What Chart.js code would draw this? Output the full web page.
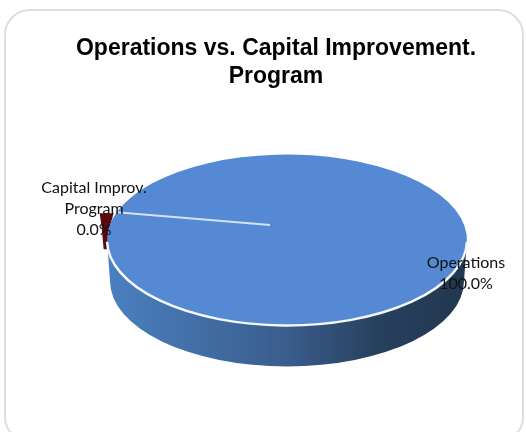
<!DOCTYPE html>
<html>
<head>
<meta charset="utf-8">
<script src="https://cdn.jsdelivr.net/npm/chart.js@4"></script>
<style>
    html, body { margin: 0; padding: 0; background: #fff; overflow: hidden; }
    #quadro { position: absolute; left: 4px; top: 9px; width: 516px; height: 430px; border: 2px solid #dedede; border-radius: 26px; }
    #grafico { position: absolute; left: 0; top: 0; }
</style>
</head>
<body>
<div id="quadro"></div>
<canvas id="grafico" width="526" height="432"></canvas>
<script>
const tituloLinhas = ["Operations vs. Capital Improvement.", "Program"];
const categorias = ["Operations", "Capital Improv. Program"];
const valores = [100, 0.04];
const rotulosLinhas = [["Operations"], ["Capital Improv.", "Program"]];

// Pie achatado: centro, achatamento e profundidade da lateral
const centroX = 287;
const centroY = 240;
const achatamento = 0.475;
const profundidade = 41;

function percentual(i) {
    const total = valores.reduce((a, b) => a + b, 0);
    return (valores[i] / total * 100).toFixed(1) + "%";
}

function pontoBorda(arco, angulo) {
    return {
        x: centroX + arco.outerRadius * Math.cos(angulo),
        y: centroY + arco.outerRadius * achatamento * Math.sin(angulo)
    };
}

const pie3d = {
    id: "pie3d",

    beforeDatasetsDraw(chart) {
        const ctx = chart.ctx;
        const arcos = chart.getDatasetMeta(0).data;
        const r = arcos[0].outerRadius;
        const ry = r * achatamento;

        // Lasca escura da fatia pequena, atrás do pie
        const p = pontoBorda(arcos[1], arcos[1].startAngle);
        ctx.fillStyle = "#5a0a0c";
        ctx.beginPath();
        ctx.moveTo(p.x - 17, p.y + 1);
        ctx.lineTo(p.x - 3, p.y + 1);
        ctx.lineTo(p.x - 7, p.y + 15);
        ctx.lineTo(p.x - 8, p.y + 37);
        ctx.lineTo(p.x - 13, p.y + 37);
        ctx.lineTo(p.x - 15, p.y + 15);
        ctx.closePath();
        ctx.fill();

        // Lateral do pie
        const grad = ctx.createLinearGradient(centroX - r, 0, centroX + r, 0);
        grad.addColorStop(0, "#4a80c0");
        grad.addColorStop(0.5, "#3a5d8c");
        grad.addColorStop(0.75, "#27405f");
        grad.addColorStop(1, "#223750");
        ctx.fillStyle = grad;
        ctx.beginPath();
        ctx.ellipse(centroX, centroY, r, ry, 0, 0, Math.PI);
        ctx.ellipse(centroX, centroY + profundidade, r - 3, ry, 0, Math.PI, 0, true);
        ctx.closePath();
        ctx.fill();

        // Achata as fatias desenhadas pelo Chart.js
        ctx.save();
        ctx.translate(centroX, centroY);
        ctx.scale(1, achatamento);
        ctx.translate(-arcos[0].x, -arcos[0].y);
    },

    afterDatasetsDraw(chart) {
        const ctx = chart.ctx;
        ctx.restore();

        const arcos = chart.getDatasetMeta(0).data;
        const r = arcos[0].outerRadius;

        // Contorno branco na frente
        ctx.strokeStyle = "#f4f8fc";
        ctx.lineWidth = 2.5;
        ctx.beginPath();
        ctx.ellipse(centroX, centroY, r, r * achatamento, 0, 0.02, Math.PI - 0.02);
        ctx.stroke();

        // Linha da fatia até o vértice
        const p = pontoBorda(arcos[1], arcos[1].startAngle);
        ctx.strokeStyle = "#d5e2f3";
        ctx.lineWidth = 2;
        ctx.beginPath();
        ctx.moveTo(p.x, p.y);
        ctx.lineTo(centroX - 17, centroY - 15);
        ctx.stroke();
    },

    afterDraw(chart) {
        const ctx = chart.ctx;
        ctx.fillStyle = "#111";
        ctx.font = "16px Lato";
        ctx.textAlign = "center";
        ctx.textBaseline = "middle";

        const posicoes = [[466, 263], [94, 188]];
        rotulosLinhas.forEach((linhas, i) => {
            const todas = linhas.concat(percentual(i));
            todas.forEach((texto, j) => {
                ctx.fillText(texto, posicoes[i][0], posicoes[i][1] + j * 21);
            });
        });
    }
};

new Chart(document.getElementById("grafico").getContext("2d"), {

    type: "pie",

    data: {

        labels: categorias,

        datasets: [{

            data: valores,

            backgroundColor: ["#5589d3", "#5a0a0c"],

            borderWidth: 0

        }]

    },

    options: {

        responsive: false,

        animation: false,

        rotation: 289,

        radius: 180,

        layout: {
            padding: { left: 26 }
        },

        plugins: {

            legend: {
                display: false
            },

            tooltip: {
                enabled: false
            },

            title: {
                display: true,
                text: tituloLinhas,
                color: "#000",
                font: { family: "Liberation Sans", size: 23, weight: "bold", lineHeight: 1.22 },
                padding: { top: 35, bottom: 9 }
            }

        }

    },

    plugins: [pie3d]

});
</script>
</body>
</html>
